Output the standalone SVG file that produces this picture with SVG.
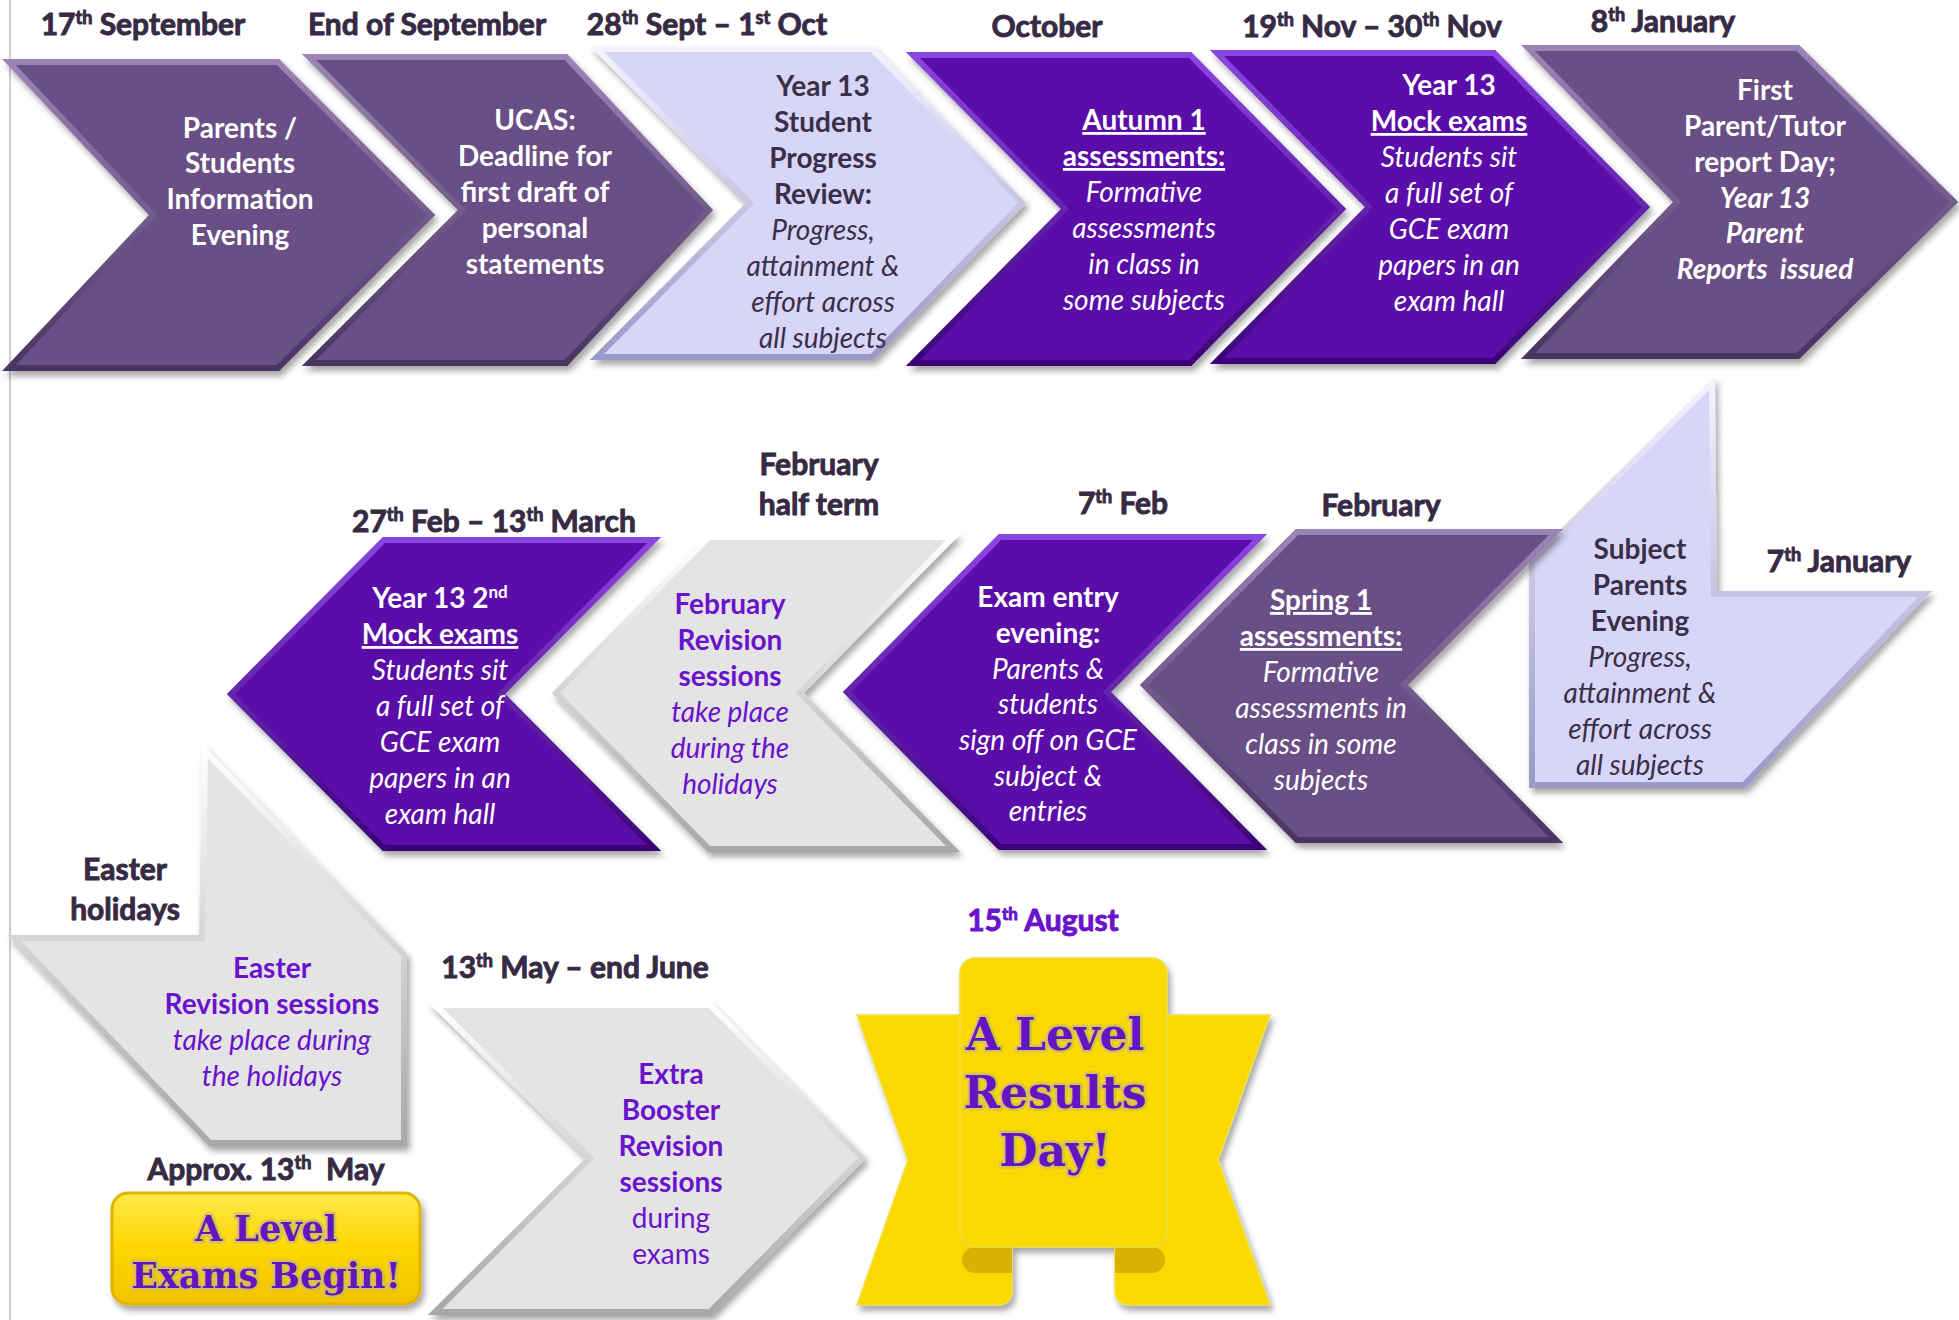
<svg xmlns="http://www.w3.org/2000/svg" width="1959" height="1320" viewBox="0 0 1959 1320">
<defs>
<filter id="sh" x="-10%" y="-10%" width="120%" height="120%">
<feDropShadow dx="3" dy="5" stdDeviation="3" flood-color="#000" flood-opacity="0.35"/>
</filter>
<linearGradient id="sgp" x1="0" y1="0" x2="0" y2="1"><stop offset="0" stop-color="#9b84b6"/><stop offset="1" stop-color="#4a3462"/></linearGradient>
<linearGradient id="sbp" x1="0" y1="0" x2="0" y2="1"><stop offset="0" stop-color="#8a45e0"/><stop offset="1" stop-color="#3c0478"/></linearGradient>
<linearGradient id="slv" x1="0" y1="0" x2="0" y2="1"><stop offset="0" stop-color="#f4f3ff"/><stop offset="1" stop-color="#9c98c8"/></linearGradient>
<linearGradient id="slg" x1="0" y1="0" x2="0" y2="1"><stop offset="0" stop-color="#ffffff"/><stop offset="1" stop-color="#a8a8a8"/></linearGradient>
<linearGradient id="ybox" x1="0" y1="0" x2="0" y2="1"><stop offset="0" stop-color="#ffe84a"/><stop offset="0.5" stop-color="#fdd600"/><stop offset="1" stop-color="#f2c200"/></linearGradient>
<style>
.gp{fill:#6a4f86;stroke:url(#sgp);stroke-width:6;stroke-linejoin:miter}
.bp{fill:#5a0aa8;stroke:url(#sbp);stroke-width:6;stroke-linejoin:miter}
.lv{fill:#d7d5f8;stroke:url(#slv);stroke-width:6;stroke-linejoin:miter}
.lg{fill:#e4e4e4;stroke:url(#slg);stroke-width:6;stroke-linejoin:miter}
.lbl{font-family:Lato,"Liberation Sans",sans-serif;font-weight:700;font-size:30px;fill:#362a44;stroke:#362a44;stroke-width:0.9;text-anchor:middle}
.t{font-family:Lato,"Liberation Sans",sans-serif;font-size:28px;text-anchor:middle}
.b{font-weight:700}
.i{font-style:italic}
.w{fill:#ffffff}
.d{fill:#3a2f48}
.p{fill:#6a12cc}
.u{text-decoration:underline}
.big{font-family:"DejaVu Serif","Liberation Serif",serif;font-weight:700;fill:#6414c0;stroke:#cdbd6a;stroke-width:5;stroke-opacity:0.8;paint-order:stroke;stroke-linejoin:round;text-anchor:middle}
</style>
</defs>
<rect x="0" y="0" width="1959" height="1320" fill="#ffffff"/>
<line x1="10" y1="0" x2="10" y2="1320" stroke="#cfcfcf" stroke-width="2"/>

<!-- Row 1 -->
<g id="n1">
<polygon class="gp" filter="url(#sh)" points="9,62 278,62 431,215 278,368 9,368 153,215"/>
<text class="lbl" x="143" y="35">17<tspan dy="-11" font-size="18">th</tspan><tspan dy="11"> September</tspan></text>
<text class="t b w" x="240" y="138">Parents /</text>
<text class="t b w" x="240" y="173">Students</text>
<text class="t b w" x="240" y="209">Information</text>
<text class="t b w" x="240" y="245">Evening</text>
</g>
<g id="n2">
<polygon class="gp" filter="url(#sh)" points="309,57 566,57 709,210 566,363 309,363 462,210"/>
<text class="lbl" x="427" y="35">End of September</text>
<text class="t b w" x="535" y="130">UCAS:</text>
<text class="t b w" x="535" y="166">Deadline for</text>
<text class="t b w" x="535" y="202">first draft of</text>
<text class="t b w" x="535" y="238">personal</text>
<text class="t b w" x="535" y="274">statements</text>
</g>
<g id="n3">
<polygon class="lv" filter="url(#sh)" points="597,49 872,49 1022,203 872,357 597,357 750,203"/>
<text class="lbl" x="707" y="35">28<tspan dy="-11" font-size="18">th</tspan><tspan dy="11"> Sept – 1</tspan><tspan dy="-11" font-size="18">st</tspan><tspan dy="11"> Oct</tspan></text>
<text class="t b d" x="823" y="96">Year 13</text>
<text class="t b d" x="823" y="132">Student</text>
<text class="t b d" x="823" y="168">Progress</text>
<text class="t b d" x="823" y="204">Review:</text>
<text class="t i d" x="823" y="240">Progress,</text>
<text class="t i d" x="823" y="276">attainment &amp;</text>
<text class="t i d" x="823" y="312">effort across</text>
<text class="t i d" x="823" y="348">all subjects</text>
</g>
<g id="n4">
<polygon class="bp" filter="url(#sh)" points="913,55 1190,55 1342,209 1190,363 913,363 1065,209"/>
<text class="lbl" x="1047" y="37">October</text>
<text class="t b w u" x="1144" y="130">Autumn 1</text>
<text class="t b w u" x="1144" y="166">assessments:</text>
<text class="t i w" x="1144" y="202">Formative</text>
<text class="t i w" x="1144" y="238">assessments</text>
<text class="t i w" x="1144" y="274">in class in</text>
<text class="t i w" x="1144" y="310">some subjects</text>
</g>
<g id="n5">
<polygon class="bp" filter="url(#sh)" points="1217,53 1494,53 1646,207 1494,361 1217,361 1369,207"/>
<text class="lbl" x="1372" y="37">19<tspan dy="-11" font-size="18">th</tspan><tspan dy="11"> Nov – 30</tspan><tspan dy="-11" font-size="18">th</tspan><tspan dy="11"> Nov</tspan></text>
<text class="t b w" x="1449" y="95">Year 13</text>
<text class="t b w u" x="1449" y="131">Mock exams</text>
<text class="t i w" x="1449" y="167">Students sit</text>
<text class="t i w" x="1449" y="203">a full set of</text>
<text class="t i w" x="1449" y="239">GCE exam</text>
<text class="t i w" x="1449" y="275">papers in an</text>
<text class="t i w" x="1449" y="311">exam hall</text>
</g>
<g id="n6">
<polygon class="gp" filter="url(#sh)" points="1528,48 1798,48 1954,202 1798,356 1528,356 1677,202"/>
<text class="lbl" x="1663" y="32">8<tspan dy="-11" font-size="18">th</tspan><tspan dy="11"> January</tspan></text>
<text class="t b w" x="1765" y="100">First</text>
<text class="t b w" x="1765" y="136">Parent/Tutor</text>
<text class="t b w" x="1765" y="172">report Day;</text>
<text class="t b i w" x="1765" y="208">Year 13</text>
<text class="t b i w" x="1765" y="243">Parent</text>
<text class="t b i w" x="1765" y="279" xml:space="preserve">Reports  issued</text>
</g>

<!-- Row 2 -->
<g id="n7">
<polygon class="lv" filter="url(#sh)" points="1712,383 1532,562 1532,785 1744,785 1925,594 1714,594"/>
<text class="lbl" x="1839" y="572">7<tspan dy="-11" font-size="18">th</tspan><tspan dy="11"> January</tspan></text>
<text class="t b d" x="1640" y="559">Subject</text>
<text class="t b d" x="1640" y="595">Parents</text>
<text class="t b d" x="1640" y="631">Evening</text>
<text class="t i d" x="1640" y="667">Progress,</text>
<text class="t i d" x="1640" y="703">attainment &amp;</text>
<text class="t i d" x="1640" y="739">effort across</text>
<text class="t i d" x="1640" y="775">all subjects</text>
</g>
<g id="n8">
<polygon class="gp" filter="url(#sh)" points="1144,685 1297,532 1556,532 1404,685 1556,840 1297,840"/>
<text class="lbl" x="1381" y="516">February</text>
<text class="t b w u" x="1321" y="610">Spring 1</text>
<text class="t b w u" x="1321" y="646">assessments:</text>
<text class="t i w" x="1321" y="682">Formative</text>
<text class="t i w" x="1321" y="718">assessments in</text>
<text class="t i w" x="1321" y="754">class in some</text>
<text class="t i w" x="1321" y="790">subjects</text>
</g>
<g id="n9">
<polygon class="bp" filter="url(#sh)" points="847,692 1000,537 1260,537 1107,692 1260,847 1000,847"/>
<text class="lbl" x="1123" y="514">7<tspan dy="-11" font-size="18">th</tspan><tspan dy="11"> Feb</tspan></text>
<text class="t b w" x="1048" y="607">Exam entry</text>
<text class="t b w" x="1048" y="643">evening:</text>
<text class="t i w" x="1048" y="679">Parents &amp;</text>
<text class="t i w" x="1048" y="714">students</text>
<text class="t i w" x="1048" y="750">sign off on GCE</text>
<text class="t i w" x="1048" y="786">subject &amp;</text>
<text class="t i w" x="1048" y="821">entries</text>
</g>
<g id="n10">
<polygon class="lg" filter="url(#sh)" points="556,693 709,537 953,537 800,693 953,849 709,849"/>
<text class="lbl" x="819" y="475">February</text>
<text class="lbl" x="819" y="515">half term</text>
<text class="t b p" x="730" y="614">February</text>
<text class="t b p" x="730" y="650">Revision</text>
<text class="t b p" x="730" y="686">sessions</text>
<text class="t i p" x="730" y="722">take place</text>
<text class="t i p" x="730" y="758">during the</text>
<text class="t i p" x="730" y="794">holidays</text>
</g>
<g id="n11">
<polygon class="bp" filter="url(#sh)" points="231,694 384,540 654,540 501,694 654,848 384,848"/>
<text class="lbl" x="494" y="532">27<tspan dy="-11" font-size="18">th</tspan><tspan dy="11"> Feb – 13</tspan><tspan dy="-11" font-size="18">th</tspan><tspan dy="11"> March</tspan></text>
<text class="t b w" x="440" y="608">Year 13 2<tspan dy="-10" font-size="17">nd</tspan></text>
<text class="t b w u" x="440" y="644">Mock exams</text>
<text class="t i w" x="440" y="680">Students sit</text>
<text class="t i w" x="440" y="716">a full set of</text>
<text class="t i w" x="440" y="752">GCE exam</text>
<text class="t i w" x="440" y="788">papers in an</text>
<text class="t i w" x="440" y="824">exam hall</text>
</g>

<!-- Row 3 -->
<g id="n12">
<polygon class="lg" filter="url(#sh)" points="205,751 404,955 404,1143 210,1143 14,938 202,938"/>
<text class="lbl" x="125" y="880">Easter</text>
<text class="lbl" x="125" y="920">holidays</text>
<text class="t b p" x="272" y="978">Easter</text>
<text class="t b p" x="272" y="1014">Revision sessions</text>
<text class="t i p" x="272" y="1050">take place during</text>
<text class="t i p" x="272" y="1086">the holidays</text>
</g>
<g id="n13">
<text class="lbl" x="266" y="1180" xml:space="preserve">Approx. 13<tspan dy="-11" font-size="18">th</tspan><tspan dy="11">  May</tspan></text>
<rect x="112" y="1193" width="308" height="111" rx="16" fill="url(#ybox)" stroke="#e0b400" stroke-width="3" filter="url(#sh)"/>
<text class="big" x="266" y="1241" font-size="35">A Level</text>
<text class="big" x="266" y="1288" font-size="35">Exams Begin!</text>
</g>
<g id="n14">
<polygon class="lg" filter="url(#sh)" points="435,1005 710,1005 862,1158 710,1312 435,1312 590,1158"/>
<text class="lbl" x="575" y="978">13<tspan dy="-11" font-size="18">th</tspan><tspan dy="11"> May – end June</tspan></text>
<text class="t b p" x="671" y="1084">Extra</text>
<text class="t b p" x="671" y="1120">Booster</text>
<text class="t b p" x="671" y="1156">Revision</text>
<text class="t b p" x="671" y="1192">sessions</text>
<text class="t p" x="671" y="1228">during</text>
<text class="t p" x="671" y="1264">exams</text>
</g>
<g id="n15">
<text class="lbl" x="1043" y="931" font-size="28" style="fill:#6a12cc;stroke:#6a12cc">15<tspan dy="-11" font-size="17">th</tspan><tspan dy="11"> August</tspan></text>
<g filter="url(#sh)">
<path d="M857,1015 L1270,1015 L1218,1160 L1270,1305 L1130,1305 Q1115,1305 1115,1290 L1115,1247 L1012,1247 L1012,1290 Q1012,1305 997,1305 L857,1305 L908,1160 Z" fill="#fbd900" stroke="#f0e040" stroke-width="1.5"/>
<path d="M975,1247 L1012,1247 L1012,1273 L975,1273 A13,13 0 0 1 975,1247 Z" fill="#d9b100"/>
<path d="M1115,1247 L1152,1247 A13,13 0 0 1 1152,1273 L1115,1273 Z" fill="#d9b100"/>
<rect x="960" y="958" width="207" height="289" rx="15" fill="#fbd900" stroke="#e8e040" stroke-width="1.5"/>
</g>
<text class="big" x="1055" y="1050" font-size="44">A Level</text>
<text class="big" x="1055" y="1108" font-size="44">Results</text>
<text class="big" x="1055" y="1166" font-size="44">Day!</text>
</g>
</svg>
